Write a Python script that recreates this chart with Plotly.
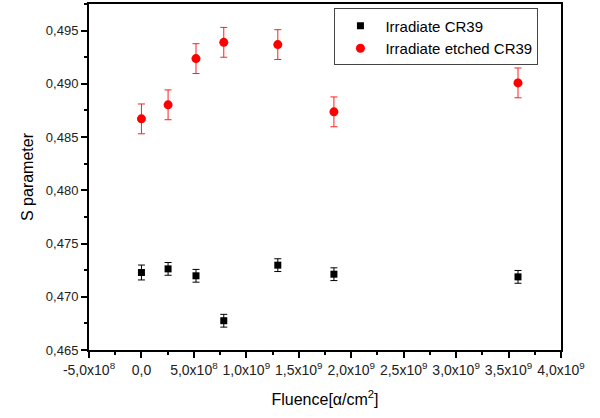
import plotly.graph_objects as go

fluence = [0, 2.54e8, 5.2e8, 7.85e8, 1.30e9, 1.835e9, 3.59e9]
s_irr = [0.47228, 0.47262, 0.47197, 0.46775, 0.47297, 0.47212, 0.47187]
s_irr_err = [0.0007, 0.0006, 0.0006, 0.0006, 0.0006, 0.0006, 0.0006]
s_etch = [0.48671, 0.48803, 0.49237, 0.49390, 0.49369, 0.48737, 0.49009]
s_etch_err = [0.0014, 0.0014, 0.0014, 0.0014, 0.0014, 0.0014, 0.0014]

x_tickvals = [-5e8, 0, 5e8, 1e9, 1.5e9, 2e9, 2.5e9, 3e9, 3.5e9, 4e9]
x_ticktext = ["-5,0x10<sup>8</sup>", "0,0", "5,0x10<sup>8</sup>", "1,0x10<sup>9</sup>",
              "1,5x10<sup>9</sup>", "2,0x10<sup>9</sup>", "2,5x10<sup>9</sup>",
              "3,0x10<sup>9</sup>", "3,5x10<sup>9</sup>", "4,0x10<sup>9</sup>"]
x_minor = [-2.5e8, 2.5e8, 7.5e8, 1.25e9, 1.75e9, 2.25e9, 2.75e9, 3.25e9, 3.75e9]

font_family = "Liberation Sans, Arial, sans-serif"

fig = go.Figure()
fig.add_trace(go.Scatter(
    x=fluence, y=s_irr, mode="markers", name="Irradiate CR39",
    marker=dict(symbol="square", size=7, color="black"),
    error_y=dict(type="data", array=s_irr_err, color="black", thickness=1, width=3.5),
))
fig.add_trace(go.Scatter(
    x=fluence, y=s_etch, mode="markers", name="Irradiate etched CR39",
    marker=dict(symbol="circle", size=9, color="#ff0000"),
    error_y=dict(type="data", array=s_etch_err, color="#ff2020", thickness=1, width=3.5),
))

fig.update_layout(
    width=600, height=418,
    margin=dict(l=89, r=39, t=2, b=68),
    paper_bgcolor="white", plot_bgcolor="white",
    separators=",.",
    font=dict(family=font_family, color="black"),
    showlegend=True,
    legend=dict(
        x=0.52, y=0.987, xanchor="left", yanchor="top",
        bordercolor="#444", borderwidth=1, bgcolor="white",
        font=dict(size=15, family=font_family, color="black"),
        itemwidth=40, tracegroupgap=0,
    ),
    xaxis=dict(
        range=[-5e8, 4e9], tickmode="array", tickvals=x_tickvals, ticktext=x_ticktext,
        ticks="outside", ticklen=6, tickwidth=1.5, tickcolor="black",
        showline=True, linewidth=2, linecolor="black", mirror=True,
        showgrid=False, zeroline=False,
        tickfont=dict(size=14, color="#222"),
        minor=dict(tickmode="array", tickvals=x_minor, ticks="outside", ticklen=3,
                   tickwidth=1.5, tickcolor="black", showgrid=False),
        title=dict(text="Fluence[α/cm<sup>2</sup>]", font=dict(size=16), standoff=17),
    ),
    yaxis=dict(
        range=[0.465, 0.4975], tickmode="linear", tick0=0.465, dtick=0.005,
        tickformat=".3f",
        ticks="outside", ticklen=6, tickwidth=1.5, tickcolor="black",
        showline=True, linewidth=2, linecolor="black", mirror=True,
        showgrid=False, zeroline=False,
        tickfont=dict(size=13, color="#222"),
        minor=dict(dtick=0.0025, tick0=0.465, ticks="outside", ticklen=3,
                   tickwidth=1.5, tickcolor="black", showgrid=False),
        title=dict(text="S parameter", font=dict(size=16), standoff=8),
    ),
    xaxis2=dict(
        overlaying="x", side="top", anchor="y", range=[0, 10],
        tickmode="linear", tick0=0, dtick=1, ticks="inside", ticklen=5,
        tickwidth=1.5, tickcolor="black", showticklabels=False,
        showline=False, showgrid=False, zeroline=False,
    ),
    yaxis2=dict(
        overlaying="y", side="right", anchor="x", range=[0, 10],
        tickmode="linear", tick0=0, dtick=1, ticks="inside", ticklen=5,
        tickwidth=1.5, tickcolor="black", showticklabels=False,
        showline=False, showgrid=False, zeroline=False,
    ),
)

fig.write_html("out.html")
